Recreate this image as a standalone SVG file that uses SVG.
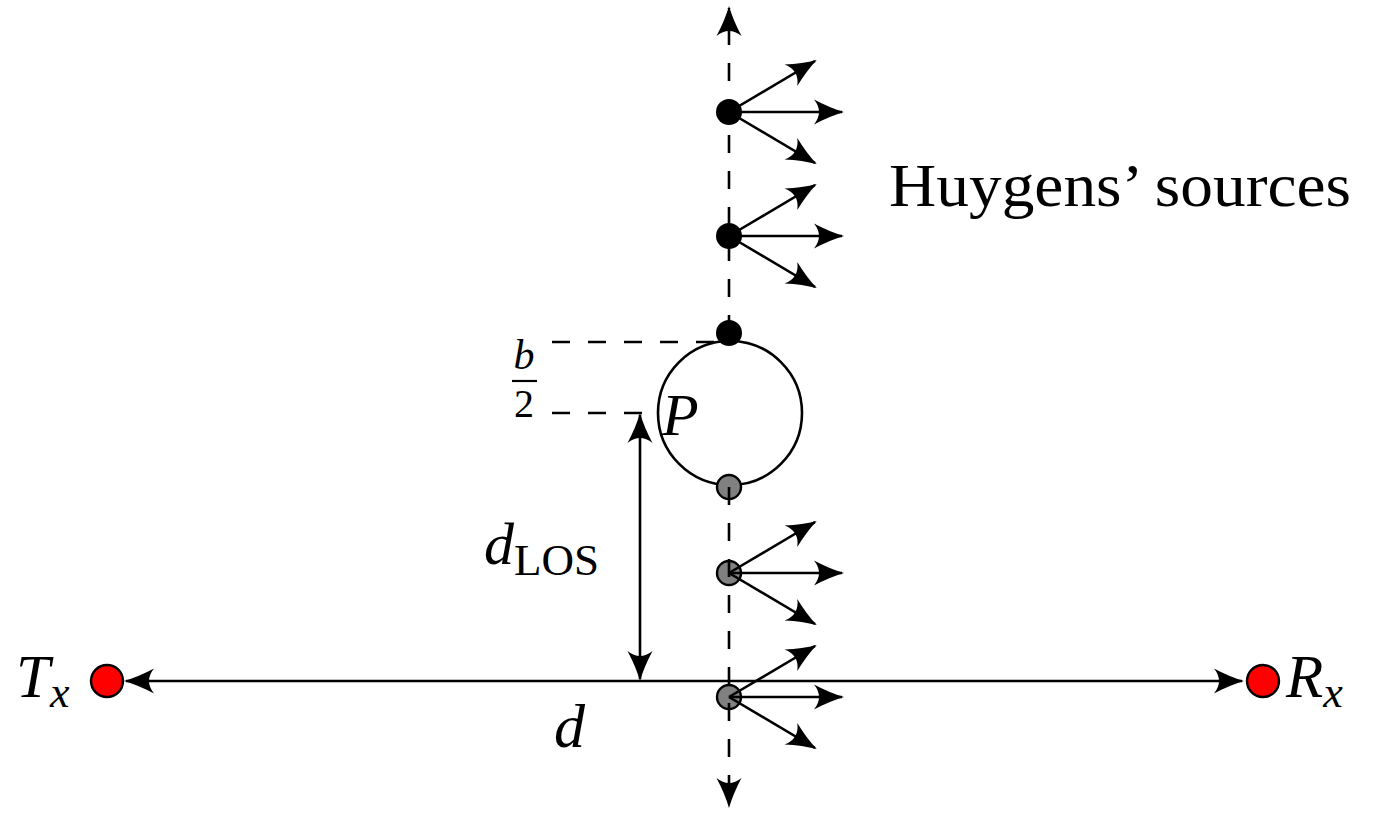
<svg xmlns="http://www.w3.org/2000/svg" width="1378" height="813" viewBox="0 0 1378 813">
<style>
.ln{stroke:#000;stroke-width:2.6;fill:none}
.dash{stroke:#000;stroke-width:2.6;fill:none;stroke-dasharray:18 18}
.blk{fill:#000}
.gry{fill:#808080;stroke:#000;stroke-width:2.4}
.red{fill:#ff0000;stroke:#000;stroke-width:2.4}
.mi{font-family:"Liberation Serif",serif;font-style:italic;fill:#000}
.rm{font-family:"Liberation Serif",serif;fill:#000}
</style>
<defs>
<marker id="ah" markerUnits="userSpaceOnUse" orient="auto-start-reverse" overflow="visible" refX="0" refY="0" markerWidth="40" markerHeight="40" viewBox="-30 -15 40 30">
<path d="M2,0 Q-12,-4 -28,-12.5 Q-18,0 -28,12.5 Q-12,4 2,0 Z" fill="#000"/>
</marker>
</defs>
<g id="obstacle">
<circle cx="730" cy="413" r="72" class="ln"/>
</g>
<g id="source1"><circle cx="729" cy="112" r="13" class="blk"/></g>
<g id="source2"><circle cx="729" cy="236" r="13" class="blk"/></g>
<g id="source3"><circle cx="729" cy="333" r="13" class="blk"/></g>
<g id="source4"><circle cx="729" cy="487" r="12" class="gry"/></g>
<g id="source5"><circle cx="729" cy="573" r="12" class="gry"/></g>
<g id="source6"><circle cx="729" cy="697" r="12" class="gry"/></g>
<g id="Tx"><circle cx="107" cy="681" r="16" class="red"/></g>
<g id="Rx"><circle cx="1263" cy="681" r="16" class="red"/></g>
<g id="connectors">
<path class="dash" d="M729,333 V8" marker-end="url(#ah)"/>
<path class="dash" d="M729,487 V806" marker-end="url(#ah)"/>
<path class="dash" d="M552,342 H722"/>
<path class="dash" d="M552,413 H645"/>
<path class="ln" d="M126,681 H1242" marker-start="url(#ah)" marker-end="url(#ah)"/>
<path class="ln" d="M640,415 V679" marker-start="url(#ah)" marker-end="url(#ah)"/>
<g id="rays">
<path class="ln" d="M729,112 L815,61" marker-end="url(#ah)"/>
<path class="ln" d="M729,112 H842" marker-end="url(#ah)"/>
<path class="ln" d="M729,112 L815,163" marker-end="url(#ah)"/>
<path class="ln" d="M729,236 L815,185" marker-end="url(#ah)"/>
<path class="ln" d="M729,236 H842" marker-end="url(#ah)"/>
<path class="ln" d="M729,236 L815,287" marker-end="url(#ah)"/>
<path class="ln" d="M729,573 L815,522" marker-end="url(#ah)"/>
<path class="ln" d="M729,573 H842" marker-end="url(#ah)"/>
<path class="ln" d="M729,573 L815,624" marker-end="url(#ah)"/>
<path class="ln" d="M729,697 L815,646" marker-end="url(#ah)"/>
<path class="ln" d="M729,697 H842" marker-end="url(#ah)"/>
<path class="ln" d="M729,697 L815,748" marker-end="url(#ah)"/>
</g>
</g>
<g id="labels">
<text class="rm" x="889" y="206" font-size="62" textLength="462" lengthAdjust="spacingAndGlyphs">Huygens’ sources</text>
<text class="mi" x="16" y="697" font-size="61">T<tspan font-size="44" dy="10">x</tspan></text>
<text class="mi" x="1286" y="697" font-size="61">R<tspan font-size="44" dy="10">x</tspan></text>
<text class="mi" x="662" y="435" font-size="60">P</text>
<text class="mi" x="484" y="564" font-size="60">d<tspan class="rm" font-style="normal" font-size="45" dy="11">LOS</tspan></text>
<text class="mi" x="554" y="747" font-size="62">d</text>
<text class="mi" x="524" y="369" font-size="42" text-anchor="middle">b</text>
<line x1="512" y1="381" x2="537" y2="381" stroke="#000" stroke-width="2.2"/>
<text class="rm" x="524" y="417" font-size="40" text-anchor="middle">2</text>
</g>
</svg>
